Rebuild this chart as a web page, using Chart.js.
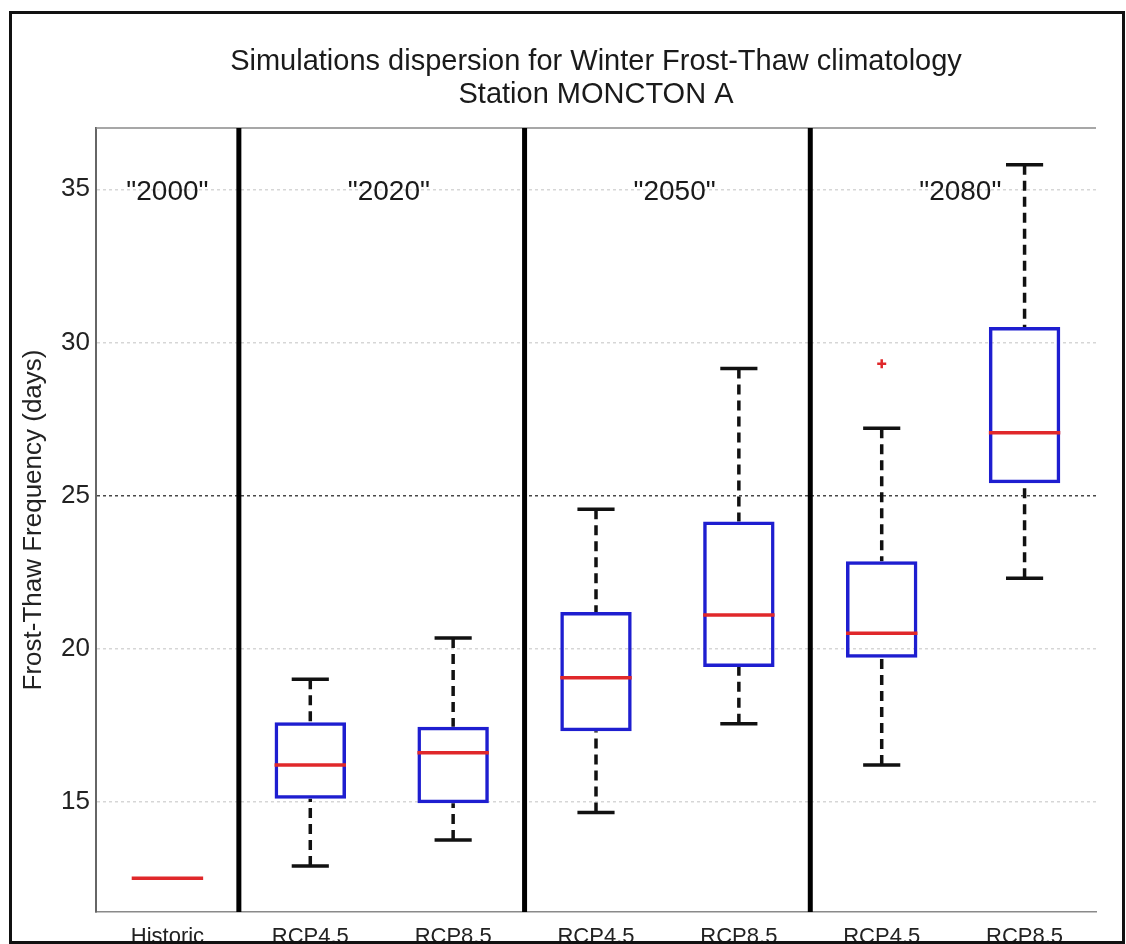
<!DOCTYPE html>
<html>
<head>
<meta charset="utf-8">
<title>Winter Frost-Thaw climatology – MONCTON A</title>
<script src="https://cdn.jsdelivr.net/npm/chart.js@4.4.1/dist/chart.umd.min.js"></script>
<style>
  html, body { margin: 0; padding: 0; background: #fff; }
  #wrap { position: relative; width: 1126px; height: 944px; overflow: hidden; }
  #frame { position: absolute; left: 9px; top: 11px; width: 1116px; height: 933px;
           box-sizing: border-box; border: 3px solid #111; pointer-events: none; }
</style>
</head>
<body>
<div id="wrap">
  <canvas id="chart" width="1126" height="944"></canvas>
  <div id="frame"></div>
</div>
<script>
// Scenario per box, left to right
const categories  = ['Historic', 'RCP4.5', 'RCP8.5', 'RCP4.5', 'RCP8.5', 'RCP4.5', 'RCP8.5'];

// Box-plot statistics of simulated frost-thaw days
const whiskerLow  = [null, 12.9, 13.75, 14.65, 17.55, 16.2, 22.3];
const quartile1   = [12.5, 15.1, 14.95, 17.3, 19.4, 19.7, 25.4];
const medians     = [12.5, 16.2, 16.6, 19.05, 21.1, 20.5, 27.05];
const quartile3   = [12.5, 17.6, 17.45, 21.2, 24.15, 22.85, 30.5];
const whiskerHigh = [null, 19.0, 20.35, 24.55, 29.15, 27.2, 35.8];
const outliers    = [null, null, null, null, null, 29.3, null];

// Time horizons and where they sit along the category axis
const periods      = ['"2000"', '"2020"', '"2050"', '"2080"'];
const periodPos    = [0, 1.55, 3.55, 5.55];
const periodBreaks = [0.5, 2.5, 4.5];
const periodLabelY = 34.9;

// Value axis
const yTicks = [15, 20, 25, 30, 35];
const yMin = 11.4, yMax = 37;

const titleLines = ['Simulations dispersion for Winter Frost-Thaw climatology', 'Station MONCTON A'];

const FONT = '"Liberation Sans", Arial, Helvetica, sans-serif';
Chart.defaults.font.family = FONT;
Chart.defaults.color = '#222';

const BLUE = '#1e1ed0';
const RED = '#e0282a';

// Dashed whiskers, period separators and the top edge of the axes box
const boxDecor = {
  id: 'boxDecor',
  beforeDatasetsDraw(chart) {
    const { ctx, chartArea: a, scales: { x, y } } = chart;
    ctx.save();
    ctx.strokeStyle = '#8a8a8a';
    ctx.lineWidth = 1.5;
    ctx.beginPath();
    ctx.moveTo(a.left, a.top);
    ctx.lineTo(a.right, a.top);
    ctx.stroke();

    ctx.strokeStyle = '#000';
    ctx.lineWidth = 5;
    periodBreaks.forEach(b => {
      const px = x.getPixelForValue(b);
      ctx.beginPath();
      ctx.moveTo(px, a.top);
      ctx.lineTo(px, a.bottom);
      ctx.stroke();
    });

    ctx.strokeStyle = '#111';
    ctx.lineWidth = 3.5;
    ctx.setLineDash([10, 6]);
    categories.forEach((_, i) => {
      const px = x.getPixelForValue(i);
      if (whiskerHigh[i] != null) {
        ctx.beginPath();
        ctx.moveTo(px, y.getPixelForValue(whiskerHigh[i]));
        ctx.lineTo(px, y.getPixelForValue(quartile3[i]));
        ctx.stroke();
      }
      if (whiskerLow[i] != null) {
        ctx.beginPath();
        ctx.moveTo(px, y.getPixelForValue(whiskerLow[i]));
        ctx.lineTo(px, y.getPixelForValue(quartile1[i]));
        ctx.stroke();
      }
    });
    ctx.restore();
  },
  afterDatasetsDraw(chart) {
    const { ctx, scales: { x, y } } = chart;
    ctx.save();
    ctx.font = '28px ' + FONT;
    ctx.fillStyle = '#1a1a1a';
    ctx.textAlign = 'center';
    ctx.textBaseline = 'middle';
    periods.forEach((p, i) => {
      ctx.fillText(p, x.getPixelForValue(periodPos[i]), y.getPixelForValue(periodLabelY));
    });
    ctx.restore();
  },
  afterDraw(chart) {
    const { ctx, chartArea: a } = chart;
    ctx.save();
    ctx.font = '29px ' + FONT;
    ctx.fillStyle = '#1a1a1a';
    ctx.textAlign = 'center';
    ctx.textBaseline = 'middle';
    const cx = (a.left + a.right) / 2;
    ctx.fillText(titleLines[0], cx, a.top - 66);
    ctx.fillText(titleLines[1], cx, a.top - 33);
    ctx.restore();
  }
};

const halfBox = ctx => ctx.chart.scales.x ? ctx.chart.scales.x.width / categories.length * 0.25 : 35;
const halfCap = ctx => ctx.chart.scales.x ? ctx.chart.scales.x.width / categories.length * 0.13 : 18;

new Chart(document.getElementById('chart'), {
  type: 'bar',
  data: {
    labels: categories,
    datasets: [
      {
        label: 'Interquartile range',
        data: quartile1.map((q, i) => [q, quartile3[i]]),
        backgroundColor: 'rgba(255,255,255,0)',
        borderColor: BLUE,
        borderWidth: 3.5,
        borderSkipped: false,
        barPercentage: 0.5,
        categoryPercentage: 1.0,
        order: 4
      },
      {
        type: 'line',
        label: 'Upper whisker',
        data: whiskerHigh,
        showLine: false,
        pointStyle: 'line',
        pointRadius: halfCap,
        pointHoverRadius: halfCap,
        pointBorderColor: '#111',
        pointBorderWidth: 3.5,
        order: 3
      },
      {
        type: 'line',
        label: 'Lower whisker',
        data: whiskerLow,
        showLine: false,
        pointStyle: 'line',
        pointRadius: halfCap,
        pointHoverRadius: halfCap,
        pointBorderColor: '#111',
        pointBorderWidth: 3.5,
        order: 3
      },
      {
        type: 'line',
        label: 'Median',
        data: medians,
        showLine: false,
        pointStyle: 'line',
        pointRadius: halfBox,
        pointHoverRadius: halfBox,
        pointBorderColor: RED,
        pointBorderWidth: 3.5,
        order: 1
      },
      {
        type: 'line',
        label: 'Outliers',
        data: outliers,
        showLine: false,
        pointStyle: 'cross',
        pointRadius: 4.5,
        pointHoverRadius: 4.5,
        pointBorderColor: RED,
        pointBorderWidth: 2.5,
        order: 0
      }
    ]
  },
  options: {
    responsive: false,
    animation: false,
    devicePixelRatio: 1,
    layout: { padding: { left: 0, right: 30, top: 128, bottom: 0 } },
    plugins: {
      legend: { display: false },
      tooltip: { enabled: false },
      title: { display: false }
    },
    scales: {
      x: {
        offset: true,
        grid: { display: false, drawTicks: false },
        border: { display: true, color: '#8a8a8a', width: 1.5 },
        ticks: {
          font: { size: 22 },
          color: '#222',
          padding: 12,
          maxRotation: 0,
          autoSkip: false
        },
        afterFit(scale) { scale.height = 32; }
      },
      y: {
        min: yMin,
        max: yMax,
        afterBuildTicks(scale) { scale.ticks = yTicks.map(v => ({ value: v })); },
        afterFit(scale) { scale.width = 96; },
        grid: {
          drawTicks: false,
          lineWidth: 1.5,
          color: ctx => (ctx.tick && ctx.tick.value === 25) ? 'rgba(40,40,40,0.85)' : 'rgba(0,0,0,0.16)'
        },
        border: { display: true, color: '#666', width: 2, dash: [3, 3] },
        ticks: {
          font: { size: 26 },
          color: '#222',
          padding: 6
        },
        title: {
          display: true,
          text: 'Frost-Thaw Frequency (days)',
          font: { size: 26 },
          color: '#222',
          padding: { top: 18, bottom: 0 }
        }
      }
    }
  },
  plugins: [boxDecor]
});
</script>
</body>
</html>
